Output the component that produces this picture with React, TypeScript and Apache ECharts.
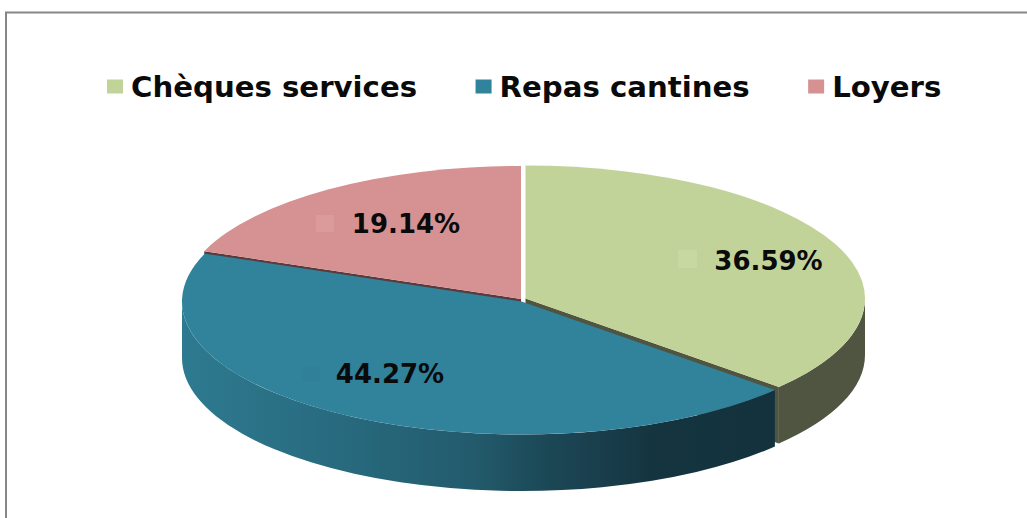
import React, { useEffect, useRef } from "react";
import * as echarts from "echarts";

// Share of each spending category, in percent.
const categories = ["Chèques services", "Repas cantines", "Loyers"];
const shares = [36.59, 44.27, 19.14];

// Colours per slice: top face, side wall, swatch beside the value.
const topColors = ["#C2D39A", "#31829B", "#D69292"];
const swatchColors = ["#C7D8A1", "#30809A", "#DB9B9B"];
const wallColors: any[] = [
  "#4F5540",
  new echarts.graphic.LinearGradient(0, 0, 1, 0, [
    { offset: 0, color: "#2E7A90" },
    { offset: 0.3, color: "#27687C" },
    { offset: 0.5, color: "#225A6B" },
    { offset: 0.6, color: "#1C4A58" },
    { offset: 0.72, color: "#193C4A" },
    { offset: 0.8, color: "#14343F" },
    { offset: 1, color: "#13323E" },
  ]),
  "#5A3A3C",
];

// Disc geometry, in pixels.
const CX = 523;
const CY = 301;
const RX = 339.5;
const RY = 133;
const DEPTH = 56.5;
const sliceOffsets = [[2.5, -2.5], [-1.5, 0.5], [-2, -2]];
const sliceZ = [1, 3, 1];
const labelCenters = [[768.5, 261], [390, 374], [406, 224]];
const swatchBoxes = [[678, 250, 19, 18], [302, 366, 18, 15], [316, 215, 18, 17]];
const labelFont = 'bold 26px "DejaVu Sans"';

const total = shares.reduce((a, b) => a + b, 0);
const startAngle = (i: number) =>
  (shares.slice(0, i).reduce((a, b) => a + b, 0) / total) * 360;

function point(i: number, deg: number, drop = 0) {
  const a = (deg * Math.PI) / 180;
  const [ox, oy] = sliceOffsets[i];
  return [CX + ox + RX * Math.sin(a), CY + oy - RY * Math.cos(a) + drop];
}

function renderSlice(params: any, api: any) {
  const i = params.seriesIndex;
  const value = api.value(0);
  const a0 = startAngle(i);
  const a1 = a0 + (value / total) * 360;
  const [ox, oy] = sliceOffsets[i];
  const c = [CX + ox, CY + oy];
  const p0 = point(i, a0);
  const p1 = point(i, a1);
  const large = a1 - a0 > 180 ? 1 : 0;
  const children: any[] = [];

  // Outer wall: only the part of the rim that faces the viewer (90° to 270°).
  const w0 = Math.max(a0, 90);
  const w1 = Math.min(a1, 270);
  if (w1 > w0) {
    const t0 = point(i, w0);
    const t1 = point(i, w1);
    const b0 = point(i, w0, DEPTH);
    const b1 = point(i, w1, DEPTH);
    children.push({
      type: "path",
      shape: {
        pathData: `M${t0[0]} ${t0[1]}A${RX} ${RY} 0 0 1 ${t1[0]} ${t1[1]}L${b1[0]} ${b1[1]}A${RX} ${RY} 0 0 0 ${b0[0]} ${b0[1]}Z`,
      },
      style: { fill: wallColors[i] },
    });
  }

  // Cut face along the radial edge that borders the slice below it.
  const cutEnd = i === 2 ? p0 : p1;
  if (i !== 1) {
    children.push({
      type: "polygon",
      shape: {
        points: [
          c,
          cutEnd,
          [cutEnd[0], cutEnd[1] + DEPTH],
          [c[0], c[1] + DEPTH],
        ],
      },
      style: { fill: i === 2 ? "#5A3A3C" : "#4F5540" },
    });
  }

  // Top face.
  children.push({
    type: "path",
    shape: {
      pathData: `M${c[0]} ${c[1]}L${p0[0]} ${p0[1]}A${RX} ${RY} 0 ${large} 1 ${p1[0]} ${p1[1]}Z`,
    },
    style: { fill: topColors[i] },
    z2: 1,
  });

  // Swatch and value.
  const [sx, sy, sw, sh] = swatchBoxes[i];
  children.push({
    type: "rect",
    shape: { x: sx, y: sy, width: sw, height: sh },
    style: { fill: swatchColors[i] },
    z2: 2,
  });
  const [lx, ly] = labelCenters[i];
  children.push({
    type: "text",
    x: lx,
    y: ly,
    style: {
      text: `${value.toFixed(2)}%`,
      font: labelFont,
      fill: "#0A0A0A",
      align: "center",
      verticalAlign: "middle",
    },
    z2: 3,
  });
  return { type: "group", children };
}

export default function App() {
  const ref = useRef<HTMLDivElement>(null);

  useEffect(() => {
    const chart = echarts.init(ref.current!, null, { renderer: "svg" });
    chart.setOption({
      animation: false,
      backgroundColor: "#FFFFFF",
      legend: {
        left: 102,
        top: 67,
        icon: "rect",
        itemWidth: 16,
        itemHeight: 14,
        itemGap: 58.5,
        data: categories,
        textStyle: {
          fontFamily: "DejaVu Sans",
          fontWeight: "bold",
          fontSize: 29.2,
          color: "#0A0A0A",
          padding: [0, 0, 0, 3],
        },
      },
      graphic: [
        {
          type: "polyline",
          shape: { points: [[6, 518], [6, 12.5], [1027, 12.5]] },
          style: { stroke: "#868686", lineWidth: 2, fill: "none" },
        },
      ],
      series: categories.map((name, i) => ({
        type: "custom",
        name,
        coordinateSystem: "none",
        z: sliceZ[i],
        itemStyle: { color: topColors[i] },
        silent: true,
        renderItem: renderSlice,
        data: [[shares[i]]],
      })),
    });
    return () => chart.dispose();
  }, []);

  return (
    <div
      ref={ref}
      style={{ position: "fixed", left: 0, top: 0, width: 1027, height: 518 }}
    />
  );
}
